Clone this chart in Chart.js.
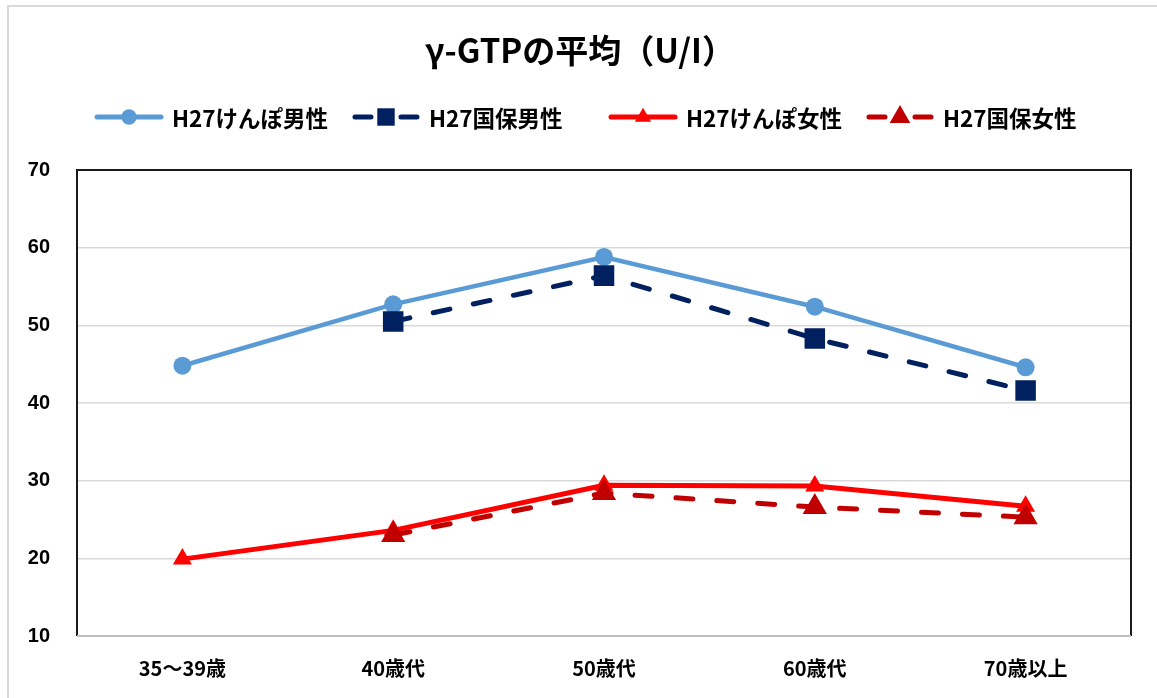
<!DOCTYPE html>
<html lang="ja">
<head>
<meta charset="utf-8">
<title>γ-GTPの平均</title>
<script src="https://cdn.jsdelivr.net/npm/chart.js@4/dist/chart.umd.min.js"></script>
<style>
  html, body { margin: 0; padding: 0; background: #fff; }
  #wrap { width: 1157px; height: 698px; position: relative; }
</style>
</head>
<body>
<div id="wrap"><canvas id="gtpChart" width="1157" height="698"></canvas></div>
<script>
// 年代別 γ-GTP 平均値
const ageGroups = ['35～39歳', '40歳代', '50歳代', '60歳代', '70歳以上'];
const kenpoMale = [44.8, 52.7, 58.8, 52.4, 44.6];
const kokuhoMale = [null, 50.5, 56.4, 48.3, 41.6];
const kenpoFemale = [19.9, 23.6, 29.4, 29.3, 26.7];
const kokuhoFemale = [null, 23.0, 28.4, 26.6, 25.3];
const seriesNames = ['H27けんぽ男性', 'H27国保男性', 'H27けんぽ女性', 'H27国保女性'];
const yTicks = [10, 20, 30, 40, 50, 60, 70];

const JP = "'Noto Sans CJK JP', 'Noto Sans', sans-serif";

function series(label, data, color, opts) {
  return Object.assign({
    label: label,
    data: data,
    borderColor: color,
    backgroundColor: color,
    pointBackgroundColor: color,
    pointBorderColor: color,
    pointBorderWidth: 0,
    borderWidth: 4,
    borderCapStyle: 'round',
    tension: 0,
    spanGaps: false,
    pointHoverRadius: 0
  }, opts);
}

const datasets = [
  series(seriesNames[0], kenpoMale, '#5B9BD5', { pointStyle: 'circle', pointRadius: 9, borderWidth: 4.5, order: 4 }),
  series(seriesNames[1], kokuhoMale, '#002060', { pointStyle: 'rect', pointRadius: 14.5, borderWidth: 5, borderDash: [17, 24], order: 3 }),
  series(seriesNames[2], kenpoFemale, '#FF0000', { pointStyle: 'triangle', pointRadius: 11, borderWidth: 5, order: 2 }),
  series(seriesNames[3], kokuhoFemale, '#C00000', { pointStyle: 'triangle', pointRadius: 14, borderWidth: 5, borderDash: [17, 24], order: 1 })
];

// 外枠・プロット枠・タイトル・凡例
const decor = {
  id: 'decor',
  beforeDraw(chart) {
    const ctx = chart.ctx;
    ctx.save();
    ctx.strokeStyle = '#d9d9d9';
    ctx.lineWidth = 2;
    ctx.beginPath();
    ctx.moveTo(8, chart.height);
    ctx.lineTo(8, 6);
    ctx.lineTo(chart.width, 6);
    ctx.stroke();
    ctx.restore();
  },
  afterDatasetsDraw(chart) {
    const ctx = chart.ctx;
    const a = chart.chartArea;
    ctx.save();
    ctx.strokeStyle = '#1a1a1a';
    ctx.lineWidth = 2;
    ctx.beginPath();
    ctx.moveTo(a.left, a.bottom);
    ctx.lineTo(a.left, a.top);
    ctx.lineTo(a.right, a.top);
    ctx.lineTo(a.right, a.bottom);
    ctx.stroke();
    ctx.strokeStyle = '#bfbfbf';
    ctx.beginPath();
    ctx.moveTo(a.left, a.bottom);
    ctx.lineTo(a.right, a.bottom);
    ctx.stroke();
    ctx.restore();
  },
  afterDraw(chart) {
    const ctx = chart.ctx;
    ctx.save();
    // title
    ctx.fillStyle = '#000';
    ctx.font = 'bold 33px ' + JP;
    ctx.textAlign = 'center';
    ctx.textBaseline = 'middle';
    ctx.fillText('γ-GTPの平均（U/I）', 580, 50);

    // legend: line sample + marker + name
    ctx.font = 'bold 22.5px ' + JP;
    ctx.textAlign = 'left';
    const y = 117;
    const slot = 257;
    let x = 95;
    chart.data.datasets.forEach((ds) => {
      const w = 68;
      ctx.save();
      ctx.strokeStyle = ds.borderColor;
      ctx.lineWidth = 5;
      ctx.lineCap = 'round';
      ctx.beginPath();
      if (ds.borderDash) {
        // one dash on each side of the marker
        ctx.moveTo(x + 3, y); ctx.lineTo(x + 19, y);
        ctx.moveTo(x + w - 19, y); ctx.lineTo(x + w - 3, y);
      } else {
        ctx.moveTo(x + 2, y); ctx.lineTo(x + w - 2, y);
      }
      ctx.stroke();
      ctx.fillStyle = ds.pointBackgroundColor;
      ctx.strokeStyle = ds.pointBackgroundColor;
      Chart.helpers.drawPoint(ctx, {
        pointStyle: ds.pointStyle,
        radius: ds.pointRadius * 0.85,
        rotation: 0,
        borderWidth: 0
      }, x + w / 2, y);
      ctx.restore();
      ctx.fillStyle = '#000';
      ctx.fillText(ds.label, x + w + 9, y + 1);
      x += slot;
    });
    ctx.restore();
  }
};

new Chart(document.getElementById('gtpChart'), {
  type: 'line',
  data: { labels: ageGroups, datasets: datasets },
  options: {
    responsive: false,
    animation: false,
    layout: { padding: { top: 170, right: 26, left: 0, bottom: 0 } },
    plugins: {
      legend: { display: false },
      title: { display: false },
      tooltip: { enabled: false }
    },
    scales: {
      x: {
        offset: true,
        grid: { display: false, drawTicks: false },
        border: { display: false },
        ticks: {
          color: '#000',
          padding: 20,
          maxRotation: 0,
          font: { family: JP, size: 20, weight: 'bold' }
        },
        afterFit(scale) { scale.height = 62; }
      },
      y: {
        min: 10,
        max: 70,
        afterBuildTicks(scale) { scale.ticks = yTicks.map(v => ({ value: v })); },
        grid: { color: '#d9d9d9', lineWidth: 1.5, drawTicks: false },
        border: { display: false },
        ticks: {
          color: '#000',
          padding: 27,
          font: { family: "'Liberation Sans', sans-serif", size: 20, weight: 'bold' }
        },
        afterFit(scale) { scale.width = 77; }
      }
    }
  },
  plugins: [decor]
});
</script>
</body>
</html>
